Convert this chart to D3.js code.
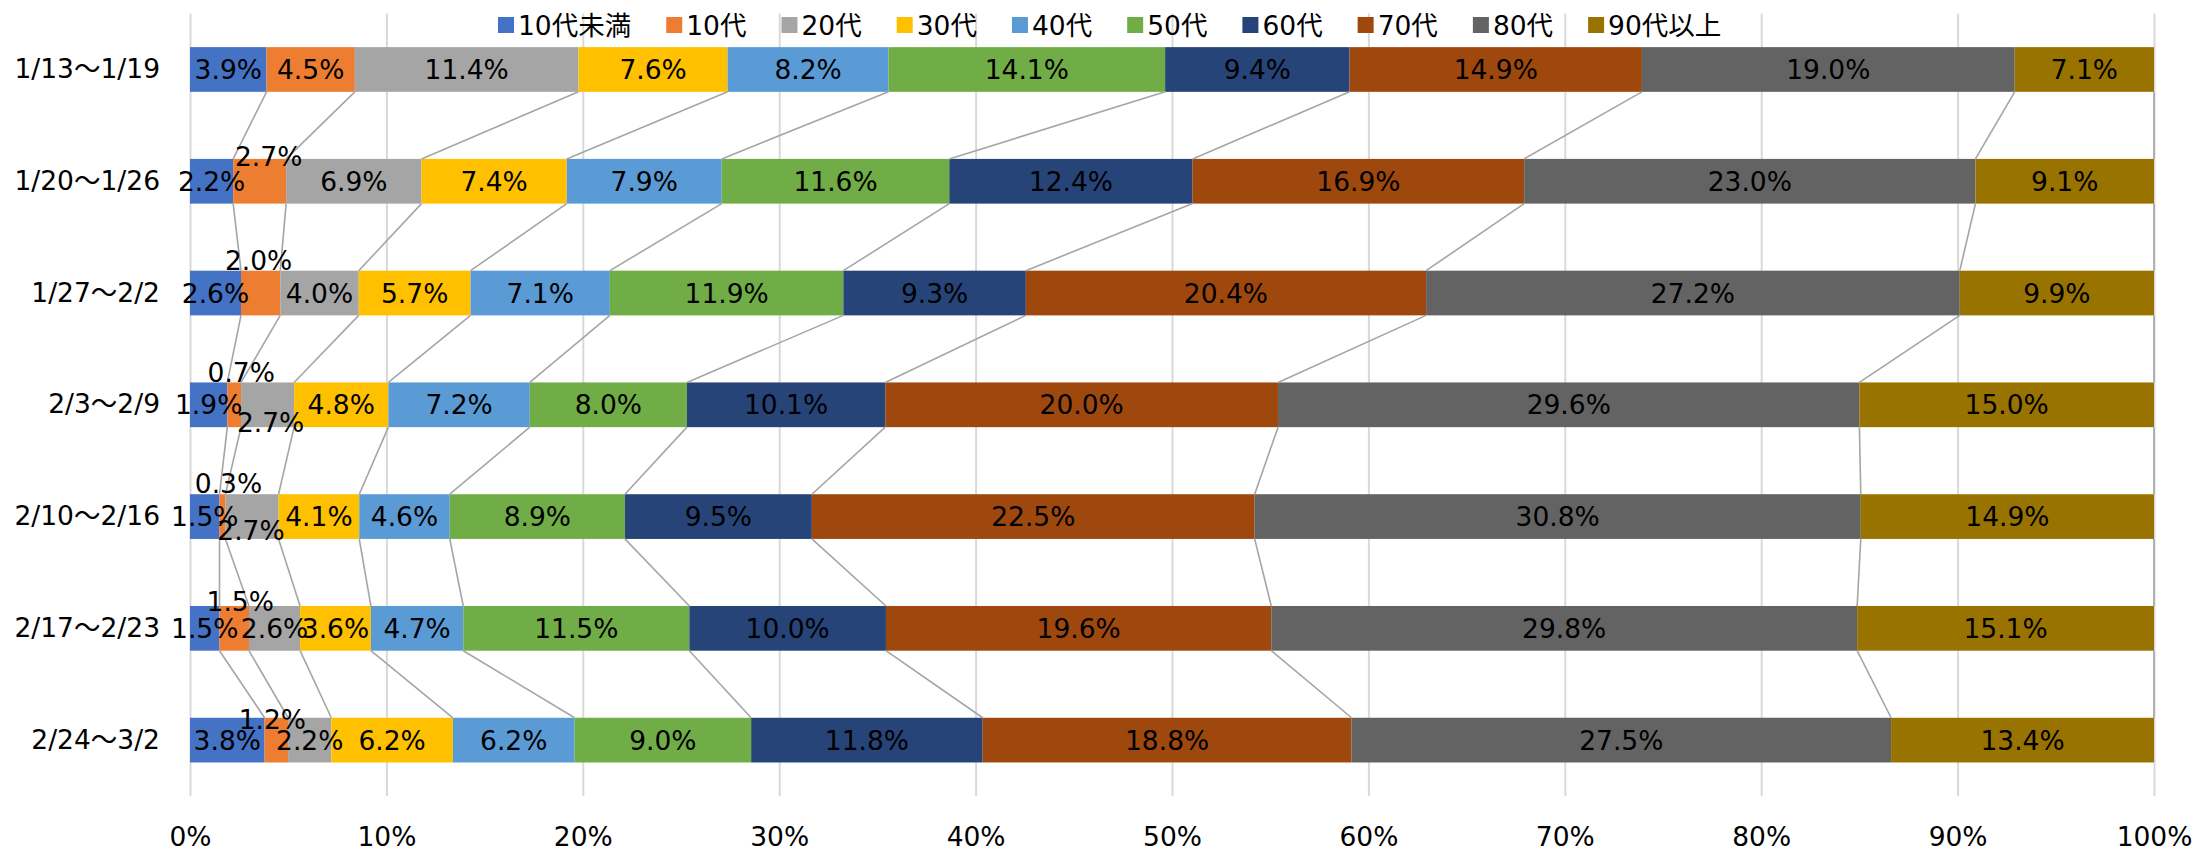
<!DOCTYPE html>
<html>
<head>
<meta charset="utf-8">
<script src="https://cdn.jsdelivr.net/npm/d3@7"></script>
<style>
  body { margin: 0; background: #fff; }
  text { font-family: "DejaVu Sans", "Noto Sans CJK JP", sans-serif; fill: #000; }
</style>
</head>
<body>
<div id="chart"></div>
<script>
// weeks (categories)
const weeks = ["1/13～1/19", "1/20～1/26", "1/27～2/2", "2/3～2/9", "2/10～2/16", "2/17～2/23", "2/24～3/2"]

// age groups (series) and their values per week, in %
const ageGroups = ["10代未満", "10代", "20代", "30代", "40代", "50代", "60代", "70代", "80代", "90代以上"]
const under10 = [3.9, 2.2, 2.6, 1.9, 1.5, 1.5, 3.8]
const age10 = [4.5, 2.7, 2.0, 0.7, 0.3, 1.5, 1.2]
const age20 = [11.4, 6.9, 4.0, 2.7, 2.7, 2.6, 2.2]
const age30 = [7.6, 7.4, 5.7, 4.8, 4.1, 3.6, 6.2]
const age40 = [8.2, 7.9, 7.1, 7.2, 4.6, 4.7, 6.2]
const age50 = [14.1, 11.6, 11.9, 8.0, 8.9, 11.5, 9.0]
const age60 = [9.4, 12.4, 9.3, 10.1, 9.5, 10.0, 11.8]
const age70 = [14.9, 16.9, 20.4, 20.0, 22.5, 19.6, 18.8]
const age80 = [19.0, 23.0, 27.2, 29.6, 30.8, 29.8, 27.5]
const age90plus = [7.1, 9.1, 9.9, 15.0, 14.9, 15.1, 13.4]
const seriesValues = [under10, age10, age20, age30, age40, age50, age60, age70, age80, age90plus]

const xTicks = [0, 0.1, 0.2, 0.3, 0.4, 0.5, 0.6, 0.7, 0.8, 0.9, 1]

const colors = ["#4472C4", "#ED7D31", "#A5A5A5", "#FFC000", "#5B9BD5", "#70AD47", "#264478", "#9E480E", "#636363", "#997300"]

// labels that were dragged off their segment in the original ("week,series": [dx, dy])
const labelNudge = {
  "1,1": [9, -25],
  "2,1": [-2, -33],
  "3,1": [7, -32], "3,2": [3, 18],
  "4,1": [6, -33], "4,2": [-1, 14],
  "5,1": [6, -27],
  "6,1": [-4, -21]
}

const width = 2202
const height = 851
const margin = { top: 13.6, right: 48, bottom: 55, left: 190 }
const fontSize = 26.5

const rows = weeks.map((w, i) => {
  const row = { week: w }
  ageGroups.forEach((g, j) => { row[g] = seriesValues[j][i] })
  return row
})

const stacked = d3.stack()
  .keys(ageGroups)
  .offset(d3.stackOffsetExpand)(rows)

const svg = d3.select("#chart")
  .append("svg")
  .attr("width", width)
  .attr("height", height)

const x = d3.scaleLinear()
  .domain([0, 1])
  .range([margin.left, width - margin.right])

const y = d3.scaleBand()
  .domain(weeks)
  .range([margin.top, height - margin.bottom])
  .paddingInner(0.6)
  .paddingOuter(0.3)

// gridlines + percent labels
const xAxis = svg.append("g")
  .attr("transform", `translate(0,${height - margin.bottom})`)
  .call(d3.axisBottom(x)
    .tickValues(xTicks)
    .tickFormat(d3.format(".0%"))
    .tickSizeInner(-(height - margin.bottom - margin.top))
    .tickSizeOuter(0))
xAxis.select(".domain").remove()
xAxis.selectAll(".tick line")
  .attr("stroke", "#D9D9D9")
  .attr("stroke-width", 2)
xAxis.selectAll(".tick text")
  .attr("y", 41)
  .attr("dy", "0.35em")
  .style("font-size", fontSize + "px")
  .style("font-family", "'DejaVu Sans', 'Noto Sans CJK JP', sans-serif")

// week labels
const yAxis = svg.append("g")
  .attr("transform", `translate(${margin.left},0)`)
  .call(d3.axisLeft(y).tickSize(0).tickPadding(30))
yAxis.select(".domain").remove()
yAxis.selectAll(".tick text")
  .style("font-size", fontSize + "px")
  .style("font-family", "'DejaVu Sans', 'Noto Sans CJK JP', sans-serif")

// bars
svg.append("g")
  .selectAll("g")
  .data(stacked)
  .join("g")
  .attr("fill", (d, j) => colors[j])
  .selectAll("rect")
  .data(d => d)
  .join("rect")
  .attr("x", d => x(d[0]))
  .attr("y", d => y(d.data.week))
  .attr("width", d => x(d[1]) - x(d[0]))
  .attr("height", y.bandwidth())

// series lines between neighbouring bars
const seriesLines = []
stacked.forEach((s, j) => {
  for (let i = 0; i < weeks.length - 1; i++) {
    seriesLines.push({
      j,
      x1: x(s[i][1]), y1: y(weeks[i]) + y.bandwidth(),
      x2: x(s[i + 1][1]), y2: y(weeks[i + 1])
    })
  }
})
svg.append("g")
  .selectAll("line")
  .data(seriesLines)
  .join("line")
  .attr("x1", d => d.x1)
  .attr("y1", d => d.y1)
  .attr("x2", d => d.x2)
  .attr("y2", d => d.y2)
  .attr("stroke", "#A5A5A5")
  .attr("stroke-width", 1.6)

// data labels
const labels = []
stacked.forEach((s, j) => {
  s.forEach((d, i) => {
    const nudge = labelNudge[`${i},${j}`] || [0, 0]
    labels.push({
      text: seriesValues[j][i].toFixed(1) + "%",
      cx: (x(d[0]) + x(d[1])) / 2 + nudge[0],
      cy: y(weeks[i]) + y.bandwidth() / 2 + nudge[1]
    })
  })
})
svg.append("g")
  .selectAll("text")
  .data(labels)
  .join("text")
  .attr("x", d => d.cx)
  .attr("y", d => d.cy)
  .attr("dy", "0.36em")
  .attr("text-anchor", "middle")
  .style("font-size", fontSize + "px")
  .text(d => d.text)

// legend
const legend = svg.append("g").attr("transform", "translate(498,25)")
let lx = 0
ageGroups.forEach((g, j) => {
  const item = legend.append("g").attr("transform", `translate(${lx},0)`)
  item.append("rect")
    .attr("x", 0)
    .attr("y", -8)
    .attr("width", 16)
    .attr("height", 16)
    .attr("fill", colors[j])
  const t = item.append("text")
    .attr("x", 20)
    .attr("dy", "0.36em")
    .style("font-size", fontSize + "px")
    .text(g)
  lx += 20 + t.node().getComputedTextLength() + 35
})
</script>
</body>
</html>
